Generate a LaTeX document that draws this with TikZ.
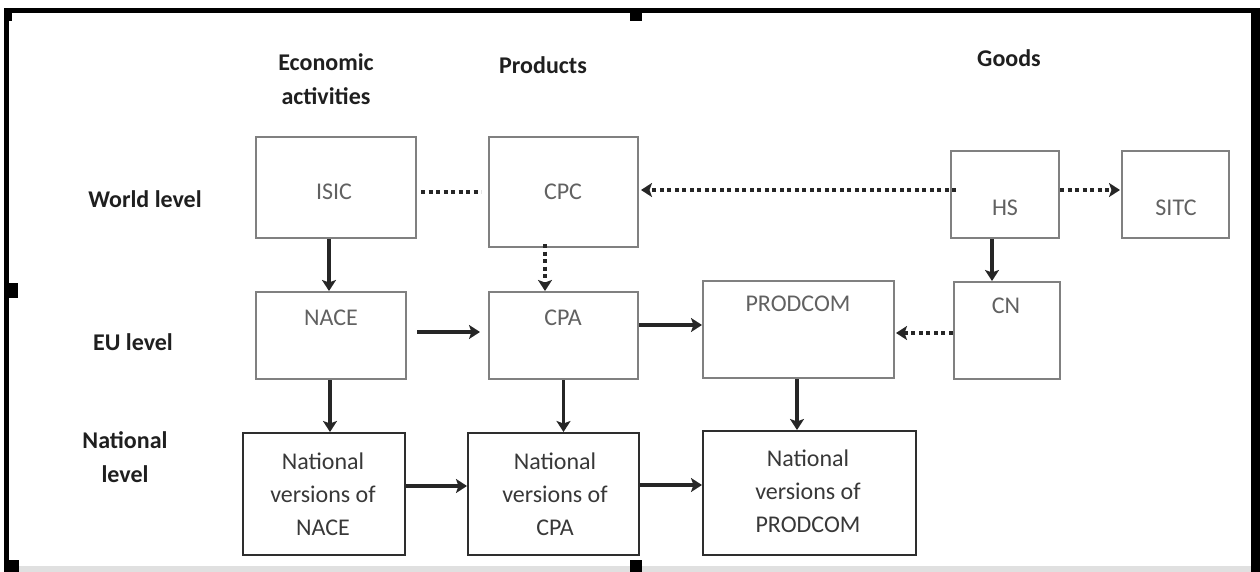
\documentclass[tikz,border=0pt]{standalone}
\usepackage{fontspec}
\setmainfont{Carlito}
\usetikzlibrary{arrows.meta}
\begin{document}
\begin{tikzpicture}[x=1pt,y=-1pt,
  every node/.style={font=\fontsize{24}{33}\selectfont},
  hdr/.style={font=\fontsize{24}{34}\selectfont\bfseries, text=black!88, align=center, inner sep=0pt},
  tbox/.style={draw=black!50, line width=2pt, inner sep=0pt},
  bbox/.style={draw=black!82, line width=2pt, inner sep=0pt},
  ttxt/.style={text=black!62, inner sep=0pt},
  btxt/.style={text=black!78, inner sep=0pt, align=center},
  conn/.style={line width=3.6pt, draw=black!85, -{Stealth[length=11pt,width=14pt,inset=2.5pt]}},
  dconn/.style={conn, dash pattern=on 4pt off 3.5pt},
  dline/.style={line width=3.6pt, draw=black!85, dash pattern=on 4pt off 3.5pt},
  handle/.style={fill=black}
]
\useasboundingbox (0,0) rectangle (1260,572);
% frame
\fill[black!12] (9,566) rectangle (1251,572);
\fill[black] (4,8) rectangle (1260,13);
\fill[black] (4,8) rectangle (9,572);
\fill[black] (1251,8) rectangle (1260,572);
\fill[handle] (4,8) rectangle (12,21);
\fill[handle] (630,13) rectangle (642,21);
\fill[handle] (4,283) rectangle (18,298);
\fill[handle] (4,560) rectangle (19,572);
\fill[handle] (630,560) rectangle (642,572);

% headers
\node[hdr] (hecon) at (326,79) {Economic\\activities};
\node[hdr] (hprod) at (543,65) {Products};
\node[hdr] (hgoods) at (1009,58) {Goods};
\node[hdr] (lworld) at (145,199) {World level};
\node[hdr] (leu) at (133,342) {EU level};
\node[hdr] (lnat) at (125,457) {National\\level};

% boxes
\node[tbox, minimum width=160pt, minimum height=101pt] (isic) at (336,187.5) {};
\node[tbox, minimum width=149pt, minimum height=110pt] (cpc) at (563.5,192) {};
\node[tbox, minimum width=108pt, minimum height=87pt] (hs) at (1005,194.5) {};
\node[tbox, minimum width=107pt, minimum height=87pt] (sitc) at (1175.5,194.5) {};
\node[tbox, minimum width=150pt, minimum height=87pt] (nace) at (331,335.5) {};
\node[tbox, minimum width=149pt, minimum height=87pt] (cpa) at (563.5,335.5) {};
\node[tbox, minimum width=191pt, minimum height=97pt] (prodcom) at (798.5,329.5) {};
\node[tbox, minimum width=106pt, minimum height=97pt] (cn) at (1006.5,330.5) {};
\node[bbox, minimum width=162pt, minimum height=122pt] (nnace) at (324,494) {};
\node[bbox, minimum width=171pt, minimum height=122pt] (ncpa) at (553.5,494) {};
\node[bbox, minimum width=213pt, minimum height=124pt] (nprod) at (809.5,493) {};

% box texts
\node[ttxt] (isic-t) at (334,192) {ISIC};
\node[ttxt] (cpc-t) at (563,192) {CPC};
\node[ttxt] (hs-t) at (1005,208) {HS};
\node[ttxt] (sitc-t) at (1176,208) {SITC};
\node[ttxt] (nace-t) at (331,318) {NACE};
\node[ttxt] (cpa-t) at (563,318) {CPA};
\node[ttxt] (prodcom-t) at (798,304) {PRODCOM};
\node[ttxt] (cn-t) at (1006,306) {CN};
\node[btxt] (nnace-t) at (323,494) {National\\versions of\\NACE};
\node[btxt] (ncpa-t) at (555,494) {National\\versions of\\CPA};
\node[btxt] (nprod-t) at (808,491) {National\\versions of\\PRODCOM};

% connectors
\draw[conn] ([xshift=-7pt]isic.south) -- ([xshift=-7pt]isic.south |- nace.north);
\draw[dconn] ([xshift=-18.5pt,yshift=4pt]cpc.south) -- ([xshift=-18.5pt]cpc.south |- cpa.north);
\draw[dline] ([xshift=4pt]isic.east |- cpc.west) -- ([xshift=-7pt]cpc.west);
\draw[dconn] ([xshift=6pt,yshift=4.5pt]hs.west) -- ([xshift=2pt,yshift=4.5pt]hs.west -| cpc.east);
\draw[dconn] ([yshift=4.5pt]hs.east) -- ([xshift=-1pt,yshift=4.5pt]sitc.west);
\draw[conn] ([xshift=-13pt]hs.south) -- ([xshift=-13pt]hs.south |- cn.north);
\draw[conn] ([xshift=10pt,yshift=3.5pt]nace.east) -- ([xshift=-8pt,yshift=3.5pt]cpa.west);
\draw[conn] ([yshift=10.5pt]cpa.east) -- ([yshift=10.5pt]cpa.east -| prodcom.west);
\draw[dconn] ([yshift=-2.5pt]cn.west) -- ([xshift=1pt,yshift=-2.5pt]cn.west -| prodcom.east);
\draw[conn] ([xshift=-1pt]nace.south) -- ([xshift=-1pt]nace.south |- nnace.north);
\draw[conn] (cpa.south) -- (cpa.south |- ncpa.north);
\draw[conn] ([xshift=-1.5pt]prodcom.south) -- ([xshift=-1.5pt]prodcom.south |- nprod.north);
\draw[conn] ([yshift=8pt]nnace.east) -- ([yshift=8pt]nnace.east -| ncpa.west);
\draw[conn] ([yshift=9pt]ncpa.east) -- ([yshift=9pt]ncpa.east -| nprod.west);
\end{tikzpicture}
\end{document}
